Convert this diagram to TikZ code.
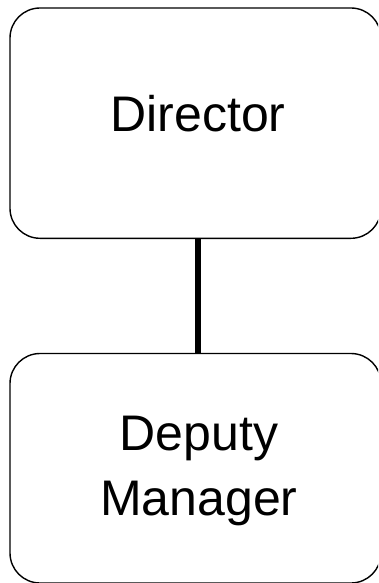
\documentclass[tikz,border=0pt]{standalone}
\usepackage{fontspec}
\setmainfont{Liberation Sans}
\begin{document}
\begin{tikzpicture}[x=1pt,y=1pt,
  box/.style={draw=black, line width=1.4pt, rounded corners=30pt, fill=white, inner sep=0pt},
  lbl/.style={font=\fontsize{50}{65}\selectfont, inner sep=0pt, anchor=base},
  conn/.style={draw=black, line width=5.5pt}]
\useasboundingbox (0,0) rectangle (378,-583);
\clip (0,0) rectangle (378,-583);
\node[box, minimum width=371pt, minimum height=230.3pt] (top) at (195.5,-123.15) {};
\node[box, minimum width=371pt, minimum height=229.5pt] (bot) at (195.5,-583+114.75) {};
\node[lbl] (dir) at (198,-131.7) {Director};
\node[lbl] (dep) at (199,-450) {Deputy};
\node[lbl] (man) at (199,-515) {Manager};
\draw[conn] (top.south -| dir.base) -- (bot.north -| dir.base);
\end{tikzpicture}
\end{document}
